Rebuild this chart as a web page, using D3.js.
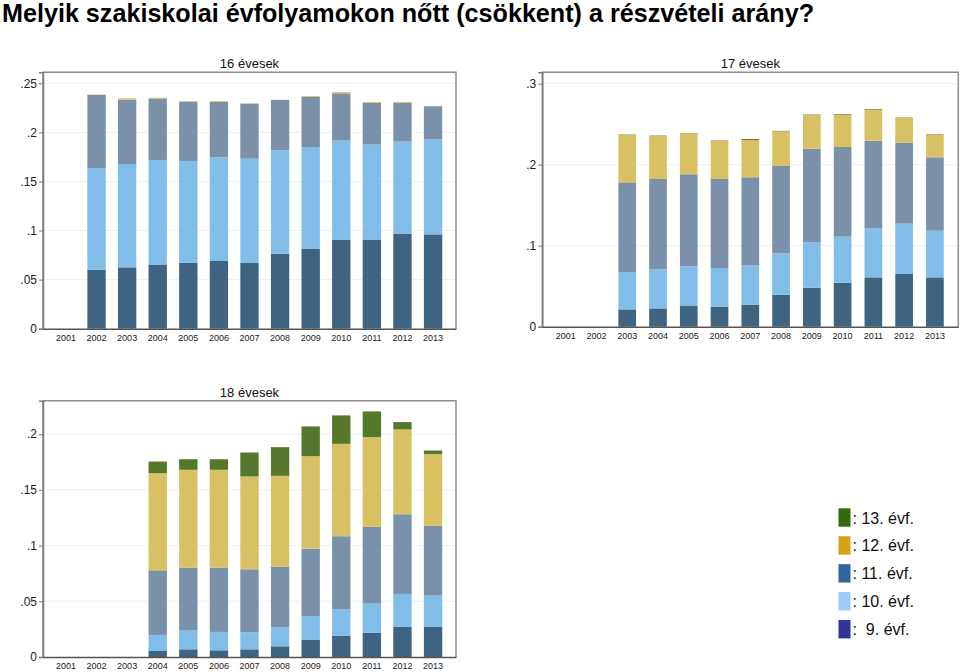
<!DOCTYPE html>
<html>
<head>
<meta charset="utf-8">
<script src="https://cdn.jsdelivr.net/npm/d3@7"></script>
<style>
html,body{margin:0;padding:0;background:#fff;}
svg{display:block;font-family:"Liberation Sans",Arial,sans-serif;}
</style>
</head>
<body>
<svg id="chart" width="960" height="672"></svg>
<script>
// ---------- DATA ----------
const years = ["2001","2002","2003","2004","2005","2006","2007","2008","2009","2010","2011","2012","2013"];
const gradeKeys = ["g9","g10","g11","g12","g13"];

// 16 évesek (segment values per grade)
const p16_g9  = [0, .0601, .0625, .0649, .0673, .0690, .0669, .0764, .0812, .0904, .0904, .0965, .0961];
const p16_g10 = [0, .1036, .1053, .1070, .1036, .1056, .1063, .1053, .1039, .1012, .0971, .0941, .0968];
const p16_g11 = [0, .0744, .0656, .0625, .0604, .0564, .0561, .0513, .0510, .0482, .0425, .0394, .0337];
const p16_g12 = [0, .0005, .0013, .0010, .0004, .0008, .0002, .0002, .0010, .0012, .0010, .0010, .0004];
const p16_g13 = [0, 0, 0, 0, 0, 0, 0, 0, 0, 0, 0, 0, 0];

// 17 évesek
const p17_g9  = [0, 0, .0214, .0226, .0255, .0247, .0272, .0395, .0481, .0543, .0609, .0654, .0609];
const p17_g10 = [0, 0, .0461, .0482, .0490, .0477, .0485, .0510, .0560, .0568, .0605, .0618, .0576];
const p17_g11 = [0, 0, .1107, .1115, .1136, .1099, .1087, .1079, .1157, .1107, .1082, .1000, .0906];
const p17_g12 = [0, 0, .0584, .0531, .0502, .0473, .0461, .0428, .0415, .0399, .0383, .0308, .0283];
const p17_g13 = [0, 0, .0005, .0005, .0005, .0004, .0012, .0005, .0005, .0008, .0008, .0004, .0005];

// 18 évesek
const p18_g9  = [0, 0, 0, .0054, .0069, .0060, .0069, .0096, .0153, .0192, .0219, .0269, .0269];
const p18_g10 = [0, 0, 0, .0144, .0168, .0165, .0153, .0170, .0215, .0236, .0260, .0297, .0282];
const p18_g11 = [0, 0, 0, .0580, .0565, .0577, .0565, .0545, .0605, .0656, .0689, .0715, .0626];
const p18_g12 = [0, 0, 0, .0872, .0878, .0878, .0833, .0815, .0829, .0829, .0805, .0761, .0643];
const p18_g13 = [0, 0, 0, .0104, .0095, .0095, .0215, .0257, .0267, .0255, .0231, .0066, .0033];

const panelTitles = ["16 évesek", "17 évesek", "18 évesek"];
const yTicks16 = [0, .05, .1, .15, .2, .25];
const yTicks17 = [0, .1, .2, .3];
const yTicks18 = [0, .05, .1, .15, .2];

const legendLabels = [": 13. évf.", ": 12. évf.", ": 11. évf.", ": 10. évf.", ":  9. évf."];
const chartTitle = "Melyik szakiskolai évfolyamokon nőtt (csökkent) a részvételi arány?";

// ---------- STYLE ----------
const barColors = {g9:"#3e6481", g10:"#80bde8", g11:"#7b91aa", g12:"#d8c163", g13:"#55782c"};
const legendColors = ["#356a10", "#d6a215", "#30669b", "#9ccbf7", "#33339b"];

const svg = d3.select("#chart");

svg.append("text")
  .attr("x", 2).attr("y", 22)
  .attr("font-size", 25).attr("font-weight", "bold").attr("fill", "#000")
  .attr("textLength", 812).attr("lengthAdjust", "spacingAndGlyphs")
  .text(chartTitle);

function buildRows(a9, a10, a11, a12, a13) {
  return years.map((y, i) => ({year: y, g9: a9[i], g10: a10[i], g11: a11[i], g12: a12[i], g13: a13[i]}));
}

const tickFmt = d => d === 0 ? "0" : d3.format(".2~f")(d).replace(/^0/, "");

function drawPanel(cfg) {
  const g = svg.append("g");
  const x = d3.scaleBand().domain(years).range([cfg.left, cfg.right])
    .paddingInner(cfg.pi).paddingOuter(cfg.po);
  const y = d3.scaleLinear().domain([0, cfg.ymax]).range([cfg.bottom, cfg.top]);

  // grid
  g.selectAll("line.grid").data(cfg.ticks.filter(t => t > 0)).join("line")
    .attr("x1", cfg.left).attr("x2", cfg.right)
    .attr("y1", d => y(d)).attr("y2", d => y(d))
    .attr("stroke", "#edf1f4").attr("stroke-width", 1);

  // bars
  const stack = d3.stack().keys(gradeKeys)(cfg.rows);
  g.selectAll("g.layer").data(stack).join("g")
    .attr("fill", d => barColors[d.key])
    .selectAll("rect").data(d => d).join("rect")
    .attr("x", d => x(d.data.year))
    .attr("width", x.bandwidth())
    .attr("y", d => y(d[1]))
    .attr("height", d => Math.max(0, y(d[0]) - y(d[1])));

  // frame
  g.append("path")
    .attr("d", `M${cfg.left},${cfg.bottom}V${cfg.top}H${cfg.right}V${cfg.bottom}`)
    .attr("fill", "none").attr("stroke", "#8c8c8c").attr("stroke-width", 1.5);

  // y axis
  const ya = g.append("g").attr("transform", `translate(${cfg.left},0)`)
    .call(d3.axisLeft(y).tickValues(cfg.ticks).tickFormat(tickFmt).tickSize(4).tickPadding(2));
  ya.select(".domain").attr("stroke", "#7a7a7a").attr("stroke-width", 1.5);
  ya.selectAll(".tick line").attr("stroke", "#7a7a7a");
  ya.selectAll(".tick text").attr("font-size", 12).attr("fill", "#222")
    .attr("font-family", "'Liberation Sans',Arial,sans-serif");

  // x axis
  const xa = g.append("g").attr("transform", `translate(0,${cfg.bottom})`)
    .call(d3.axisBottom(x).tickSize(0).tickPadding(6));
  xa.select(".domain").attr("stroke", "#555").attr("stroke-width", 1.5);
  xa.selectAll(".tick text").attr("font-size", 9).attr("fill", "#222")
    .attr("font-family", "'Liberation Sans',Arial,sans-serif");

  // title
  g.append("text")
    .attr("x", (cfg.left + cfg.right) / 2).attr("y", cfg.top - 4)
    .attr("text-anchor", "middle").attr("font-size", 13).attr("fill", "#111")
    .text(cfg.title);
}

drawPanel({left: 43, right: 456, top: 72.3, bottom: 328.7, ymax: 0.2612, pi: 0.4, po: 0.45,
  ticks: yTicks16, title: panelTitles[0], rows: buildRows(p16_g9, p16_g10, p16_g11, p16_g12, p16_g13)});
drawPanel({left: 542.3, right: 958.3, top: 72.3, bottom: 326.7, ymax: 0.314, pi: 0.425, po: 0.473,
  ticks: yTicks17, title: panelTitles[1], rows: buildRows(p17_g9, p17_g10, p17_g11, p17_g12, p17_g13)});
drawPanel({left: 43, right: 456, top: 400.7, bottom: 657, ymax: 0.230, pi: 0.4, po: 0.45,
  ticks: yTicks18, title: panelTitles[2], rows: buildRows(p18_g9, p18_g10, p18_g11, p18_g12, p18_g13)});

// legend
const lg = svg.append("g");
const ly = d3.scalePoint().domain(legendLabels).range([508.3, 620]);
lg.selectAll("rect").data(legendLabels).join("rect")
  .attr("x", 838.5).attr("y", d => ly(d)).attr("width", 12).attr("height", 18.4)
  .attr("fill", (d, i) => legendColors[i]);
lg.selectAll("text").data(legendLabels).join("text")
  .attr("x", 852.5).attr("y", d => ly(d) + 15.2)
  .attr("font-size", 16).attr("fill", "#111")
  .attr("xml:space", "preserve").style("white-space", "pre")
  .text(d => d);
</script>
</body>
</html>
